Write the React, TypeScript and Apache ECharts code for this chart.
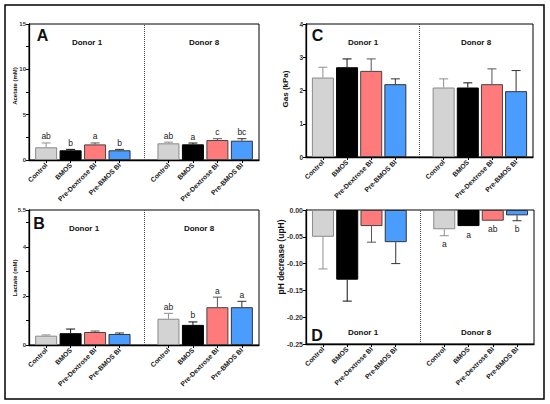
import React, { useEffect, useRef } from "react";
import * as echarts from "echarts";

const categories = ["Control", "BMOS", "Pre-Dextrose BI", "Pre-BMOS BI"];
const positions = [1, 2, 3, 4, 6, 7, 8, 9];
const donors = ["Donor 1", "Donor 8"];

const acetate = [1.4, 1.07, 1.72, 1.07, 1.84, 1.73, 2.2, 2.13];
const acetateErr = [0.48, 0.1, 0.16, 0.1, 0.13, 0.14, 0.15, 0.22];
const acetateLetters = ["ab", "b", "a", "b", "ab", "a", "c", "bc"];

const gas = [2.39, 2.7, 2.59, 2.19, 2.09, 2.09, 2.19, 1.98];
const gasErr = [0.31, 0.25, 0.36, 0.16, 0.26, 0.14, 0.46, 0.62];
const gasLetters = ["", "", "", "", "", "", "", ""];

const lactate = [0.38, 0.48, 0.53, 0.45, 1.07, 0.82, 1.54, 1.54];
const lactateErr = [0.03, 0.17, 0.04, 0.04, 0.22, 0.12, 0.41, 0.24];
const lactateLetters = ["", "", "", "", "ab", "b", "a", "a"];

const phDecrease = [-0.05, -0.13, -0.03, -0.06, -0.036, -0.03, -0.02, -0.01];
const phErr = [0.06, 0.04, 0.03, 0.04, 0.012, 0, 0, 0.01];
const phLetters = ["", "", "", "", "a", "a", "ab", "b"];

const FONT = "Liberation Sans, Arial, sans-serif";
const fills = ["#d3d3d3", "#000000", "#ff7b7b", "#4a9cff"];
const edges = ["#8a8a8a", "#000000", "#444444", "#333333"];
const errColors = ["#8f8f8f", "#111111", "#555555", "#333333"];

type PanelCfg = {
  grid: { left: number; top: number; width: number; height: number };
  min: number;
  max: number;
  interval: number;
  labelFmt: (v: number) => string;
  values: number[];
  errs: number[];
  letters: string[];
  labelSize: number;
};

const panels: PanelCfg[] = [
  {
    grid: { left: 29, top: 24, width: 230, height: 136 },
    min: 0, max: 15, interval: 2.5,
    labelFmt: (v) => (Math.abs(v % 5) < 1e-6 ? String(v) : ""),
    values: acetate, errs: acetateErr, letters: acetateLetters, labelSize: 6,
  },
  {
    grid: { left: 306, top: 24, width: 227, height: 133 },
    min: 0, max: 4, interval: 1,
    labelFmt: (v) => String(v),
    values: gas, errs: gasErr, letters: gasLetters, labelSize: 6.5,
  },
  {
    grid: { left: 29, top: 210, width: 230, height: 135 },
    min: 0, max: 5.5, interval: 1,
    labelFmt: (v) => (Math.round(v) % 2 === 0 ? String(v) : ""),
    values: lactate, errs: lactateErr, letters: lactateLetters, labelSize: 6,
  },
  {
    grid: { left: 306, top: 210, width: 228, height: 134 },
    min: -0.25, max: 0, interval: 0.05,
    labelFmt: (v) => v.toFixed(2),
    values: phDecrease, errs: phErr, letters: phLetters, labelSize: 7,
  },
];

function buildOption() {
  const grid: any[] = [];
  const xAxis: any[] = [];
  const yAxis: any[] = [];
  const series: any[] = [];

  panels.forEach((p, i) => {
    grid.push({ ...p.grid, show: true, borderColor: "#000", borderWidth: 1, backgroundColor: "transparent" });
    xAxis.push({
      type: "value",
      gridIndex: i,
      min: 0.3,
      max: 9.7,
      splitLine: { show: false },
      axisLine: { show: true, onZero: false, lineStyle: { color: "#000", width: 1.3 } },
      axisTick: { show: true, customValues: positions, length: 3, lineStyle: { color: "#000" } },
      axisLabel: {
        customValues: positions,
        rotate: 45,
        margin: 4,
        fontSize: 6.8,
        fontWeight: "bold",
        fontFamily: FONT,
        color: "#222",
        formatter: (v: number) => {
          const k = positions.indexOf(Math.round(v));
          return k < 0 ? "" : categories[k % 4];
        },
      },
    });
    yAxis.push({
      type: "value",
      gridIndex: i,
      min: p.min,
      max: p.max,
      interval: p.interval,
      splitLine: { show: false },
      axisLine: { show: true, onZero: false, lineStyle: { color: "#000", width: 1.3 } },
      axisTick: { show: true, length: 3, lineStyle: { color: "#000" } },
      axisLabel: {
        fontSize: p.labelSize,
        fontWeight: "bold",
        fontFamily: FONT,
        color: "#333",
        margin: 3,
        formatter: p.labelFmt,
      },
    });
    series.push({
      type: "bar",
      xAxisIndex: i,
      yAxisIndex: i,
      barWidth: 22,
      data: positions.map((x, k) => ({
        value: [x, p.values[k]],
        itemStyle: { color: fills[k % 4], borderColor: edges[k % 4], borderWidth: 1 },
      })),
      markLine: {
        silent: true,
        symbol: ["none", "none"],
        label: { show: false },
        lineStyle: { type: "dotted", color: "#444", width: 1 },
        data: [{ xAxis: 5 }],
      },
    });
    const letters = p.letters;
    series.push({
      type: "custom",
      xAxisIndex: i,
      yAxisIndex: i,
      z: 5,
      data: positions.map((x, k) => [x, p.values[k], p.errs[k]]),
      renderItem: (params: any, api: any) => {
        const k = params.dataIndex;
        const x = api.value(0);
        const v = api.value(1);
        const e = api.value(2);
        const dir = v < 0 ? -1 : 1;
        const end = v + dir * e;
        const p0 = api.coord([x, v]);
        const p1 = api.coord([x, end]);
        const col = errColors[k % 4];
        const children: any[] = [];
        if (e > 0) {
          children.push({
            type: "line",
            shape: { x1: p0[0], y1: p0[1], x2: p1[0], y2: p1[1] },
            style: { stroke: col, lineWidth: 1 },
          });
          children.push({
            type: "line",
            shape: { x1: p1[0] - 4.5, y1: p1[1], x2: p1[0] + 4.5, y2: p1[1] },
            style: { stroke: col, lineWidth: 1 },
          });
        }
        const lt = letters[k];
        if (lt) {
          children.push({
            type: "text",
            x: p1[0],
            y: dir > 0 ? p1[1] - 2 : p1[1] + 4,
            style: {
              text: lt,
              fill: "#222",
              fontSize: 8.5,
              fontFamily: FONT,
              align: "center",
              verticalAlign: dir > 0 ? "bottom" : "top",
            },
          });
        }
        return { type: "group", children };
      },
    });
  });

  const txt = (x: number, y: number, text: string, size: number, bold = true, rot = 0) => ({
    type: "text",
    x,
    y,
    rotation: rot,
    style: {
      text,
      fontSize: size,
      fontWeight: bold ? "bold" : "normal",
      fontFamily: FONT,
      fill: "#111",
      align: "center",
      verticalAlign: "middle",
    },
  });

  const graphic: any[] = [
    {
      type: "rect",
      shape: { x: 5, y: 5, width: 539, height: 394 },
      style: { fill: "none", stroke: "#000", lineWidth: 1.5 },
    },
    txt(42.5, 35, "A", 16),
    txt(317.5, 35, "C", 16),
    txt(39, 223, "B", 16),
    txt(317, 335, "D", 16),
    txt(87, 42, donors[0], 8),
    txt(204, 42, donors[1], 8),
    txt(363, 42, donors[0], 8),
    txt(476, 42, donors[1], 8),
    txt(84, 228, donors[0], 8),
    txt(199, 228, donors[1], 8),
    txt(363, 332, donors[0], 8),
    txt(476, 332, donors[1], 8),
    txt(15, 86, "Acetate (mM)", 6, true, Math.PI / 2),
    txt(15, 278, "Lactate (mM)", 6, true, Math.PI / 2),
    txt(285, 89, "Gas (kPa)", 8, true, Math.PI / 2),
    txt(281, 257, "pH decrease (upH)", 8.5, true, Math.PI / 2),
  ];

  return {
    animation: false,
    backgroundColor: "#fff",
    textStyle: { fontFamily: FONT },
    grid,
    xAxis,
    yAxis,
    series,
    graphic,
  };
}

export default function App() {
  const ref = useRef<HTMLDivElement>(null);
  useEffect(() => {
    if (!ref.current) return;
    const chart = echarts.init(ref.current, undefined, { renderer: "svg" });
    chart.setOption(buildOption() as any);
    return () => chart.dispose();
  }, []);
  return (
    <div
      ref={ref}
      style={{ position: "absolute", left: 0, top: 0, width: 550, height: 404, background: "#fff" }}
    />
  );
}
